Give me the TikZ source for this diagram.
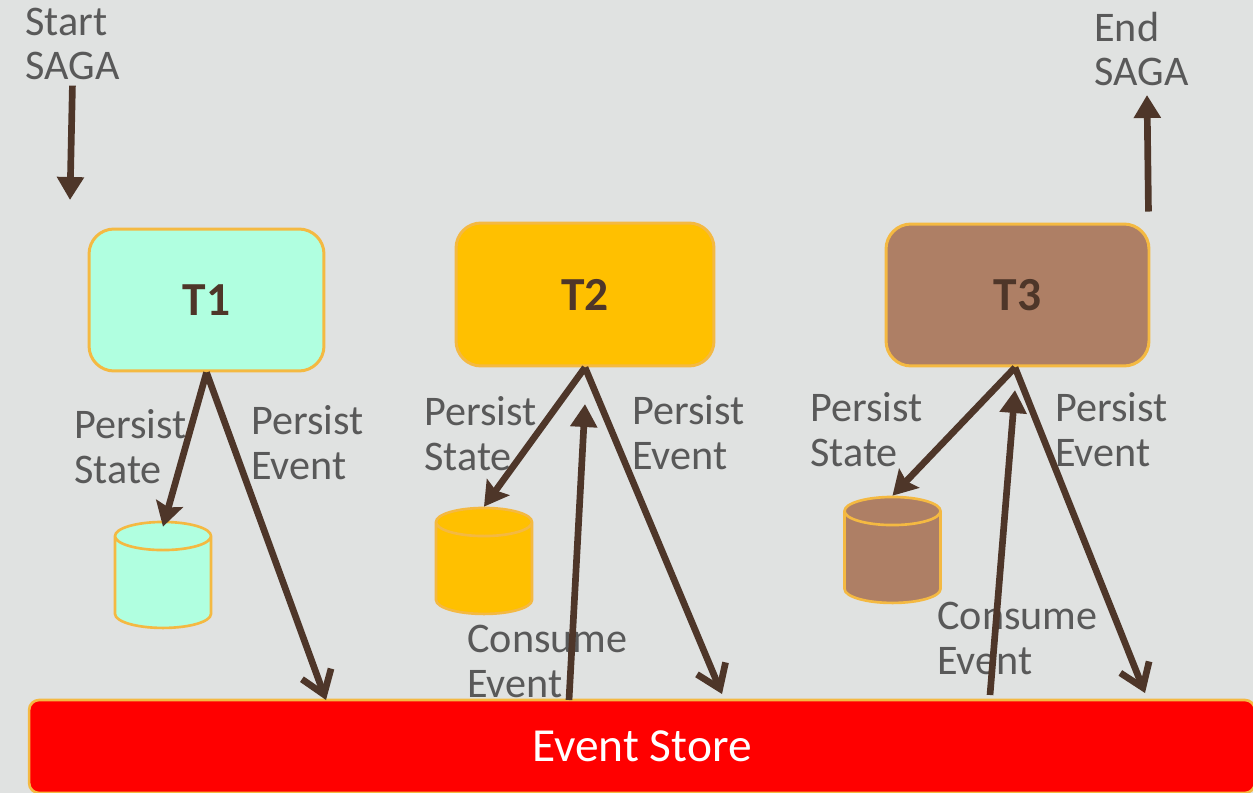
\documentclass[tikz,border=0pt]{standalone}
\usepackage{fontspec}
\setmainfont{Carlito}
\usepackage{xcolor}
\usepackage{tikz}
\usetikzlibrary{arrows.meta,positioning,shapes.geometric}

\definecolor{bg}{HTML}{E0E2E1}
\definecolor{rim}{HTML}{F4B942}
\definecolor{arr}{HTML}{4E3629}
\definecolor{txt}{HTML}{595959}
\definecolor{mint}{HTML}{B0FFE0}
\definecolor{amber}{HTML}{FFC000}
\definecolor{clay}{HTML}{AE7F65}

\tikzset{
  task/.style={draw=rim, line width=1.7pt, rounded corners=0.5cm, minimum height=2.84cm, text=arr, font=\fontsize{27}{30}\selectfont\bfseries},
  db/.style={cylinder, shape border rotate=90, aspect=2.4, draw=rim, line width=1.5pt, minimum width=1.92cm, minimum height=2.12cm},
  lbl/.style={anchor=base west, align=left, inner sep=0pt, text=txt, font=\fontsize{24}{25.5}\selectfont},
  flow/.style={draw=arr, line width=3.8pt, -{Triangle[width=0.52cm,length=0.46cm]}},
  save/.style={draw=arr, line width=3.8pt, -{Stealth[width=0.55cm,length=0.48cm,inset=0.08cm]}},
  emit/.style={draw=arr, line width=3.8pt, -{Straight Barb[width=0.62cm,length=0.44cm]}}
}

\begin{document}
\begin{tikzpicture}[x=0.02cm, y=-0.02cm]
\useasboundingbox[fill=bg] (0,0) rectangle (1253,793);

% event store along the bottom
\node[draw=rim, fill=red, line width=1.5pt, rounded corners=0.2cm, minimum width=24.52cm, minimum height=1.86cm, text=white, font=\fontsize{27}{30}\selectfont] (es) at (642,746.5) {Event Store};

% transactions
\node[task, fill=mint, minimum width=4.7cm] (t1) at (206.5,300) {T1};
\node[task, fill=amber, minimum width=5.16cm, minimum height=2.86cm] (t2) at (585,294.5) {T2};
\node[task, fill=clay, minimum width=5.26cm] (t3) at (1017.5,295) {T3};

% local state stores
\node[db, fill=mint] (c1) at (163,586) {};
\node[db, fill=amber] (c2) at (484,572) {};
\node[db, fill=clay] (c3) at (892.5,561) {};

% labels
\node[lbl] (start) at (25,80) {Start\\SAGA};
\node[lbl] (finish) at (1094,86) {End\\SAGA};
\node[lbl] (ps1) at (74,483) {Persist\\State};
\node[lbl] (pe1) at (251,479) {Persist\\Event};
\node[lbl] (ps2) at (424,470) {Persist\\State};
\node[lbl] (pe2) at (632,469) {Persist\\Event};
\node[lbl] (ce2) at (467,697) {Consume\\Event};
\node[lbl] (ps3) at (810,466) {Persist\\State};
\node[lbl] (pe3) at (1055,466) {Persist\\Event};
\node[lbl] (ce3) at (937,674) {Consume\\Event};

% end points on the store and below the boxes
\coordinate (in) at (70,200);
\coordinate (out) at (1147,95);
\coordinate (e1) at (326,700);
\coordinate (e2) at (722,694);
\coordinate (e3) at (1145,693);
\coordinate (r2) at (569,700);
\coordinate (r3) at (990,695);
\coordinate (q2) at (585,404);
\coordinate (q3) at (1015,390);

\draw[flow] ([yshift=-0.1cm]start.south) -- (in);
\draw[flow] ([xshift=-0.04cm,yshift=0.22cm]t3.north east) -- (out);

\draw[save] (t1.south) -- ([yshift=-0.12cm]c1.north);
\draw[emit] (t1.south) -- (e1);
\draw[save] (t2.south) -- (c2.north);
\draw[emit] (t2.south) -- (e2);
\draw[flow] (r2) -- (q2);
\draw[save] ([xshift=-0.05cm]t3.south) -- (c3.north);
\draw[emit] ([xshift=-0.05cm]t3.south) -- (e3);
\draw[flow] (r3) -- (q3);
\end{tikzpicture}
\end{document}
